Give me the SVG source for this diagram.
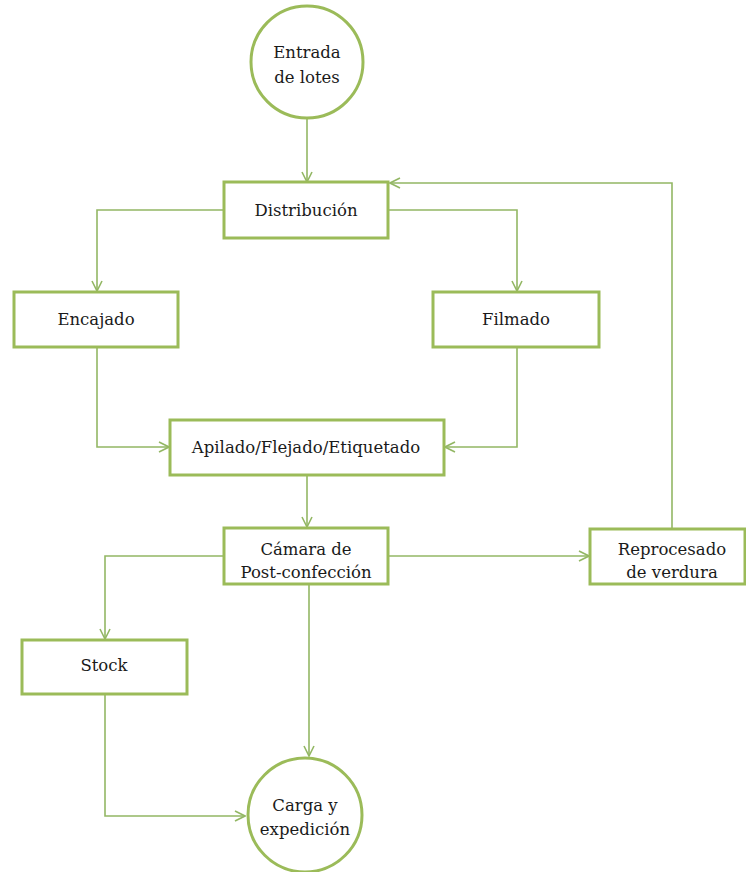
<svg xmlns="http://www.w3.org/2000/svg" width="746" height="872" viewBox="0 0 746 872">
  <style>
    .node { fill: #ffffff; stroke: #9bbb59; stroke-width: 3; }
    .link { fill: none; stroke: #93b764; stroke-width: 1.6; }
    text { font-family: "DejaVu Serif", "Liberation Serif", serif; font-size: 16.5px; fill: #1a1a1a; text-anchor: middle; }
  </style>
  <defs>
    <marker id="arrow" viewBox="0 0 12 12" refX="11" refY="6" markerWidth="12" markerHeight="12" markerUnits="userSpaceOnUse" orient="auto">
      <path d="M1,1 L11,6 L1,11" fill="none" stroke="#93b764" stroke-width="1.6"/>
    </marker>
  </defs>

  <g id="connectors">
    <path class="link" d="M307,118 V182" marker-end="url(#arrow)"/>
    <path class="link" d="M224,210 H97 V291" marker-end="url(#arrow)"/>
    <path class="link" d="M388,210 H517 V291" marker-end="url(#arrow)"/>
    <path class="link" d="M97,348 V447 H169" marker-end="url(#arrow)"/>
    <path class="link" d="M517,348 V447 H445" marker-end="url(#arrow)"/>
    <path class="link" d="M307,476 V527" marker-end="url(#arrow)"/>
    <path class="link" d="M224,556 H105 V639" marker-end="url(#arrow)"/>
    <path class="link" d="M309,585 V756" marker-end="url(#arrow)"/>
    <path class="link" d="M105,695 V816 H245" marker-end="url(#arrow)"/>
    <path class="link" d="M388,556 H589" marker-end="url(#arrow)"/>
    <path class="link" d="M672,528 V183 H390" marker-end="url(#arrow)"/>
  </g>

  <g id="entrada">
    <circle class="node" cx="307" cy="62" r="56"/>
    <text x="307" y="58">Entrada</text>
    <text x="307" y="83">de lotes</text>
  </g>
  <g id="distribucion">
    <rect class="node" x="224" y="182" width="164" height="56"/>
    <text x="306" y="216">Distribución</text>
  </g>
  <g id="encajado">
    <rect class="node" x="14" y="292" width="164" height="55"/>
    <text x="96" y="325">Encajado</text>
  </g>
  <g id="filmado">
    <rect class="node" x="433" y="292" width="166" height="55"/>
    <text x="516" y="325">Filmado</text>
  </g>
  <g id="apilado">
    <rect class="node" x="170" y="420" width="274" height="55"/>
    <text x="306" y="453">Apilado/Flejado/Etiquetado</text>
  </g>
  <g id="camara">
    <rect class="node" x="224" y="528" width="164" height="56"/>
    <text x="306" y="555">Cámara de</text>
    <text x="306" y="578">Post-confección</text>
  </g>
  <g id="reprocesado">
    <rect class="node" x="590" y="529" width="155" height="55"/>
    <text x="672" y="555">Reprocesado</text>
    <text x="672" y="578">de verdura</text>
  </g>
  <g id="stock">
    <rect class="node" x="22" y="640" width="165" height="54"/>
    <text x="104" y="671">Stock</text>
  </g>
  <g id="carga">
    <circle class="node" cx="305" cy="815" r="57"/>
    <text x="305" y="811">Carga y</text>
    <text x="305" y="835">expedición</text>
  </g>
</svg>
